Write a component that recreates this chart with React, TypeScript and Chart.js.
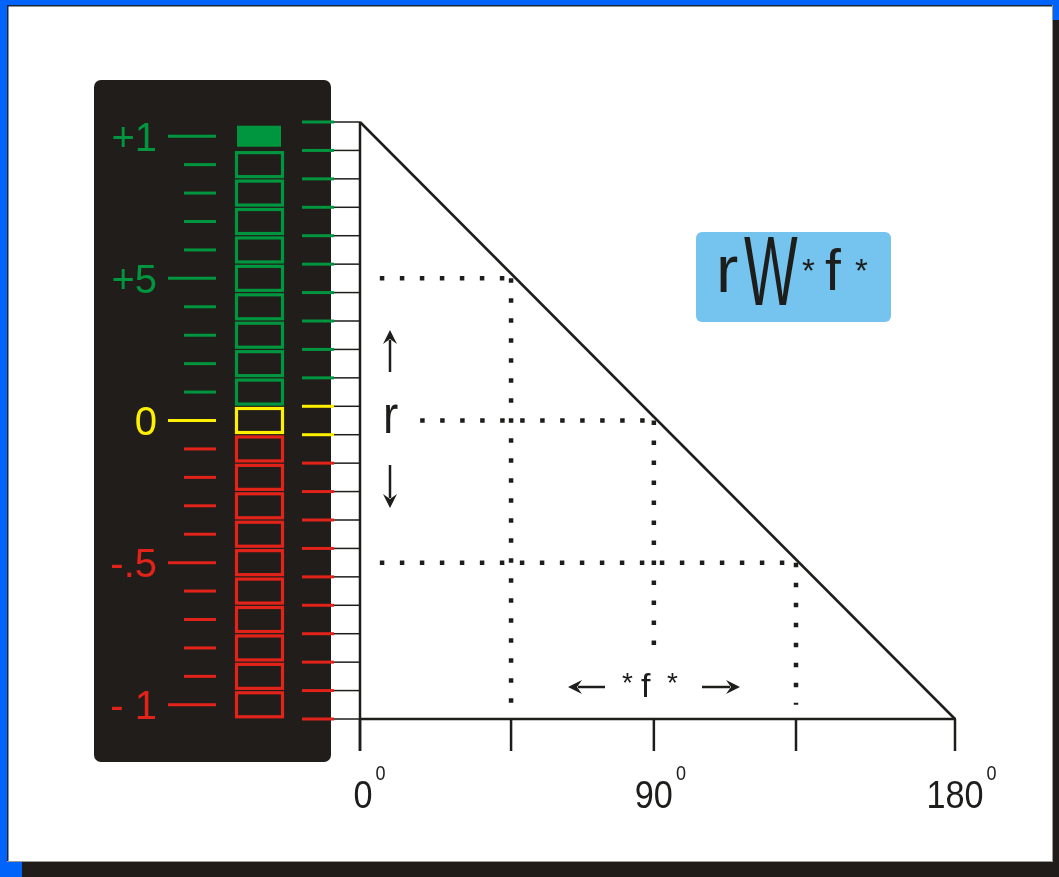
import React, { useEffect, useRef } from "react";
import { Chart, registerables } from "chart.js";

Chart.register(...registerables);

const CANVAS_W = 1059;
const CANVAS_H = 877;

// ---- data ----
// meter box centres (r values), top to bottom
const meterValues = [1, 0.9, 0.8, 0.7, 0.6, 0.5, 0.4, 0.3, 0.2, 0.1, 0, -0.1, -0.2, -0.3, -0.4, -0.5, -0.6, -0.7, -0.8, -0.9, -1];
const meterZones = ["g", "g", "g", "g", "g", "g", "g", "g", "g", "g", "y", "r", "r", "r", "r", "r", "r", "r", "r", "r", "r"];
// meter box boundaries (r values)
const boundaryValues = [1.05, 0.95, 0.85, 0.75, 0.65, 0.55, 0.45, 0.35, 0.25, 0.15, 0.05, -0.05, -0.15, -0.25, -0.35, -0.45, -0.55, -0.65, -0.75, -0.85, -0.95, -1.05];
const boundaryZones = ["g", "g", "g", "g", "g", "g", "g", "g", "g", "g", "y", "y", "r", "r", "r", "r", "r", "r", "r", "r", "r", "r"];
// labelled meter levels
const meterLabelValues = [1, 0.5, 0, -0.5, -1];
const meterLabels = ["+1", "+5", "0", "-.5", "- 1"];
const meterLabelZones = ["g", "g", "y", "r", "r"];

// hypotenuse r = f(phi)
const lineF = [0, 180];
const lineR = [1.05, -1.05];

// dotted guides
const guideR = [0.5, 0, -0.5];
const guideF = [45.7, 88.9, 131.9];
const guideStartF = [6, 18.2, 6];
const guideEndF = [44, 87, 130];
const guideEndR = [-1.0, -0.8, -1.0];

// x axis ticks
const xTickValues = [0, 45.7, 88.9, 131.9, 180];
const xTickLabels = ["0", "", "90", "", "180"];
const xTickSup = ["0", "", "0", "", "0"];

const COLORS: Record<string, string> = { g: "#00963f", y: "#fff000", r: "#e2231a" };
const INK = "#1d1d1b";
const FONT = '"Liberation Sans", Arial, sans-serif';

function txt(ctx: CanvasRenderingContext2D, s: string, x: number, y: number, size: number, color: string, sx = 1, align: CanvasTextAlign = "left") {
  ctx.save();
  ctx.translate(x, y);
  ctx.scale(sx, 1);
  ctx.font = `${size}px ${FONT}`;
  ctx.fillStyle = color;
  ctx.textAlign = align;
  ctx.textBaseline = "alphabetic";
  ctx.fillText(s, 0, 0);
  ctx.restore();
}

function line(ctx: CanvasRenderingContext2D, x1: number, y1: number, x2: number, y2: number, w: number, c: string) {
  ctx.save();
  ctx.strokeStyle = c;
  ctx.lineWidth = w;
  ctx.lineCap = "butt";
  ctx.beginPath();
  ctx.moveTo(x1, y1);
  ctx.lineTo(x2, y2);
  ctx.stroke();
  ctx.restore();
}

function arrow(ctx: CanvasRenderingContext2D, x1: number, y1: number, x2: number, y2: number) {
  // from (x1,y1) tail to (x2,y2) tip
  const ang = Math.atan2(y2 - y1, x2 - x1);
  const hl = 12, hw = 7;
  const bx = x2 - Math.cos(ang) * hl;
  const by = y2 - Math.sin(ang) * hl;
  line(ctx, x1, y1, bx + Math.cos(ang) * 2, by + Math.sin(ang) * 2, 2.5, INK);
  ctx.save();
  ctx.fillStyle = INK;
  ctx.beginPath();
  ctx.moveTo(x2, y2);
  ctx.lineTo(bx - Math.sin(ang) * hw + Math.cos(ang) * -2, by + Math.cos(ang) * hw + Math.sin(ang) * -2);
  ctx.lineTo(bx + Math.cos(ang) * 3, by + Math.sin(ang) * 3);
  ctx.lineTo(bx + Math.sin(ang) * hw + Math.cos(ang) * -2, by - Math.cos(ang) * hw + Math.sin(ang) * -2);
  ctx.closePath();
  ctx.fill();
  ctx.restore();
}

const diagramPlugin = {
  id: "diagram",
  beforeDraw(chart: any) {
    const ctx: CanvasRenderingContext2D = chart.ctx;
    ctx.save();
    // blue frame
    ctx.fillStyle = "#0064fa";
    ctx.fillRect(0, 0, CANVAS_W, CANVAS_H);
    // shadow
    ctx.fillStyle = "#201c19";
    ctx.fillRect(22, 20, CANVAS_W - 22, CANVAS_H - 20);
    // white sheet
    ctx.fillStyle = "#ffffff";
    ctx.fillRect(7, 5, 1046, 857);
    ctx.fillStyle = "#1c2636";
    ctx.fillRect(7, 5, 1046, 1.5);
    ctx.fillRect(7, 5, 1.5, 857);
    ctx.fillStyle = "#9a9a9a";
    ctx.fillRect(1052, 5, 1, 857);
    ctx.fillRect(7, 861, 1046, 1);
    // black meter panel
    ctx.fillStyle = "#211d1a";
    ctx.beginPath();
    (ctx as any).roundRect(94, 80, 237, 682, 7);
    ctx.fill();
    // formula box
    ctx.fillStyle = "#75c4ef";
    ctx.beginPath();
    (ctx as any).roundRect(696, 232, 195, 90, 6);
    ctx.fill();
    ctx.restore();
  },
  afterDatasetsDraw(chart: any) {
    const ctx: CanvasRenderingContext2D = chart.ctx;
    const xs = chart.scales.x;
    const ys = chart.scales.y;
    const x0 = xs.getPixelForValue(0);
    const yBase = ys.getPixelForValue(-1.05);
    const yTop = ys.getPixelForValue(1.05);

    // meter boxes
    meterValues.forEach((v, i) => {
      const cy = ys.getPixelForValue(v);
      const c = COLORS[meterZones[i]];
      ctx.save();
      if (i === 0) {
        ctx.fillStyle = c;
        ctx.fillRect(237, cy - 10.5, 44, 21);
      } else {
        ctx.strokeStyle = c;
        ctx.lineWidth = 3.2;
        ctx.strokeRect(236.5, cy - 12, 46, 24);
      }
      ctx.restore();
      // left ticks
      const major = meterLabelValues.indexOf(v) >= 0;
      line(ctx, major ? 168 : 184, cy, 216, cy, 3, c);
    });

    // meter labels
    meterLabelValues.forEach((v, i) => {
      const cy = ys.getPixelForValue(v);
      txt(ctx, meterLabels[i], 157, cy + 14.3, 40, COLORS[meterLabelZones[i]], 1, "right");
    });

    // right ticks at box boundaries
    boundaryValues.forEach((v, i) => {
      const cy = ys.getPixelForValue(v);
      line(ctx, 334, cy, x0, cy, 1.5, INK);
      line(ctx, 302, cy, 334, cy, 3, COLORS[boundaryZones[i]]);
    });

    // axes
    line(ctx, x0, yTop, x0, yBase + 32, 2.5, INK);
    line(ctx, x0, yBase, xs.getPixelForValue(180) + 1, yBase, 2.5, INK);
    xTickValues.forEach((v, i) => {
      const px = xs.getPixelForValue(v);
      line(ctx, px, yBase, px, yBase + 32, 2.5, INK);
      if (xTickLabels[i]) {
        const cx = i === 0 ? px + 3 : px;
        txt(ctx, xTickLabels[i], cx, 808, 38, INK, 0.9, "center");
        ctx.save();
        ctx.font = `38px ${FONT}`;
        const w = ctx.measureText(xTickLabels[i]).width * 0.9;
        ctx.restore();
        txt(ctx, xTickSup[i], cx + w / 2 + 3, 780, 20, INK, 0.9, "left");
      }
    });

    // r with arrows
    arrow(ctx, 390, 372, 390, 330);
    txt(ctx, "r", 383, 433, 54, INK, 0.85);
    arrow(ctx, 390, 465, 390, 508);

    // *f* with arrows
    arrow(ctx, 605, 687, 568, 687);
    txt(ctx, "*", 622, 692, 28, INK);
    txt(ctx, "f", 641, 697, 34, INK);
    txt(ctx, "*", 667, 692, 28, INK);
    arrow(ctx, 702, 687, 740, 687);

    // formula box text
    txt(ctx, "r", 716, 292, 67, INK, 1);
    txt(ctx, "W", 744, 305, 98, INK, 0.58);
    txt(ctx, "*", 802, 282, 33, INK);
    txt(ctx, "f", 825, 290, 57, INK);
    txt(ctx, "*", 855, 282, 33, INK);
  },
};

export default function App() {
  const ref = useRef<HTMLCanvasElement | null>(null);
  useEffect(() => {
    if (!ref.current) return;
    const dotted = (pts: { x: number; y: number }[]) => ({
      data: pts,
      borderColor: INK,
      borderWidth: 4.5,
      borderDash: [4.5, 15.5],
      borderCapStyle: "butt",
      pointRadius: 0,
      fill: false,
      tension: 0,
      clip: false,
    });
    const datasets: any[] = [
      {
        data: lineF.map((f, i) => ({ x: f, y: lineR[i] })),
        borderColor: INK,
        borderWidth: 2.5,
        pointRadius: 0,
        fill: false,
        tension: 0,
        clip: false,
      },
      ...guideR.map((r, i) => dotted([{ x: guideStartF[i], y: r }, { x: guideEndF[i], y: r }])),
      ...guideF.map((f, i) => dotted([{ x: f, y: guideR[i] }, { x: f, y: guideEndR[i] }])),
    ];
    const chart = new Chart(ref.current, {
      type: "line",
      data: { datasets },
      options: {
        responsive: false,
        animation: false,
        devicePixelRatio: 1,
        events: [],
        layout: { padding: { left: 360, right: CANVAS_W - 955, top: 122, bottom: CANVAS_H - 719 } },
        scales: {
          x: { type: "linear", min: 0, max: 180, display: false },
          y: { type: "linear", min: -1.05, max: 1.05, display: false },
        },
        plugins: { legend: { display: false }, tooltip: { enabled: false } },
      },
      plugins: [diagramPlugin],
    } as any);
    return () => chart.destroy();
  }, []);
  return (
    <div style={{ position: "fixed", left: 0, top: 0, width: CANVAS_W, height: CANVAS_H }}>
      <canvas ref={ref} width={CANVAS_W} height={CANVAS_H} style={{ display: "block", width: CANVAS_W, height: CANVAS_H }} />
    </div>
  );
}
